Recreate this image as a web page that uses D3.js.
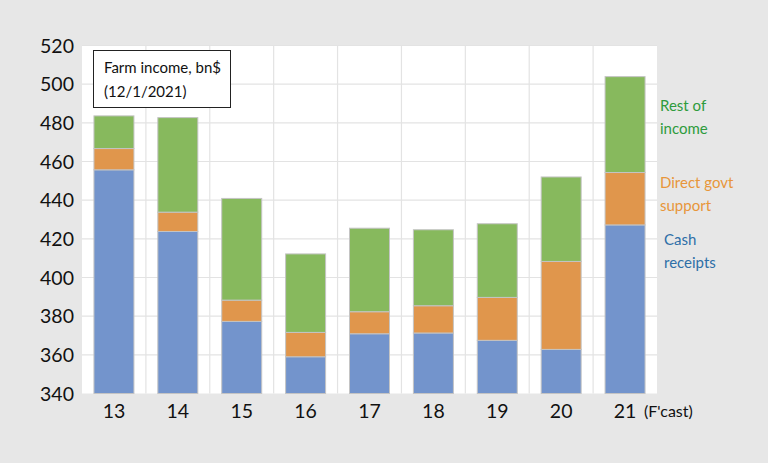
<!DOCTYPE html>
<html><head><meta charset="utf-8">
<script src="https://cdn.jsdelivr.net/npm/d3@7"></script>
<style>
html,body{margin:0;padding:0;background:#e7e7e7;}
svg{display:block;font-family:Lato,"Open Sans",sans-serif;}
</style></head>
<body><svg id="c" width="768" height="463"></svg>
<script>
const years = ["13","14","15","16","17","18","19","20","21"];
const cashReceipts = [455.7, 423.8, 377.3, 359.0, 370.9, 371.3, 367.5, 362.8, 427.2];
const directGovtSupport = [11.0, 10.0, 11.0, 12.6, 11.4, 14.1, 22.2, 45.5, 27.1];
const restOfIncome = [16.9, 48.9, 52.6, 40.6, 43.2, 39.3, 38.1, 43.7, 49.6];
const yTicks = [340,360,380,400,420,440,460,480,500,520];
const seriesNames = ["Cash receipts","Direct govt support","Rest of income"];

const svg = d3.select("#c");
const W = 768, H = 463;
svg.append("rect").attr("width",W).attr("height",H).attr("fill","#e7e7e7");

const pLeft = 82, pRight = 657, pTop = 45.5, pBottom = 393.5;
const x = d3.scaleBand().domain(years).range([pLeft,pRight]).paddingInner(0.374).paddingOuter(0.187);
const y = d3.scaleLinear().domain([340,520]).range([pBottom,pTop]);

svg.append("rect").attr("x",pLeft).attr("y",pTop).attr("width",pRight-pLeft).attr("height",pBottom-pTop).attr("fill","#ffffff");

// gridlines
svg.append("g").selectAll("line").data(yTicks.slice(1)).join("line")
  .attr("x1",pLeft).attr("x2",pRight).attr("y1",d=>y(d)).attr("y2",d=>y(d))
  .attr("stroke","#e3e3e3").attr("stroke-width",1.2);
const step = x.step();
svg.append("g").selectAll("line").data(years.slice(1)).join("line")
  .attr("x1",d=>x(d)-x.paddingInner()*step/2).attr("x2",d=>x(d)-x.paddingInner()*step/2)
  .attr("y1",pTop).attr("y2",pBottom)
  .attr("stroke","#e3e3e3").attr("stroke-width",1.2);

const data = years.map((yr,i)=>({year:yr, cash:cashReceipts[i], govt:directGovtSupport[i], rest:restOfIncome[i]}));
const stack = d3.stack().keys(["cash","govt","rest"]);
const layers = stack(data);
const colors = {cash:"#7394cc", govt:"#e0964c", rest:"#87b95d"};

svg.append("g").selectAll("g").data(layers).join("g")
  .attr("fill",d=>colors[d.key])
  .selectAll("rect").data(d=>d).join("rect")
  .attr("x",d=>x(d.data.year))
  .attr("width",x.bandwidth())
  .attr("y",d=>y(d[1]))
  .attr("height",d=>y(Math.max(d[0],340))-y(d[1]))
  .attr("stroke","#c4c4c4").attr("stroke-width",1);

// y axis
const yAxis = d3.axisLeft(y).tickValues(yTicks).tickSize(0).tickPadding(0);
const ga = svg.append("g").attr("transform",`translate(74,0)`).call(yAxis);
ga.select(".domain").remove();
ga.selectAll("text").attr("font-size",19.5).attr("fill","#111").attr("font-family","Lato,'Open Sans',sans-serif").attr("dy","0.35em");

// x axis
const xAxis = d3.axisBottom(x).tickSize(0).tickPadding(0);
const gx = svg.append("g").attr("transform",`translate(0,${pBottom})`).call(xAxis);
gx.select(".domain").remove();
gx.selectAll("text").attr("font-size",19.5).attr("fill","#111").attr("font-family","Lato,'Open Sans',sans-serif").attr("y",24).attr("dy",0);

svg.append("text").attr("x",644).attr("y",417).attr("font-size",16).attr("fill","#111").text("(F'cast)");

// title box
svg.append("rect").attr("x",93.5).attr("y",50.5).attr("width",137).attr("height",57).attr("fill","#fff").attr("stroke","#222").attr("stroke-width",1);
svg.append("text").attr("x",104).attr("y",73).attr("font-size",15).attr("fill","#111").text("Farm income, bn$");
svg.append("text").attr("x",104).attr("y",97).attr("font-size",15).attr("fill","#111").text("(12/1/2021)");

// legend labels
const leg = [
  {lines:["Rest of","income"], x:660, y:111, c:"#2e9b3c"},
  {lines:["Direct govt","support"], x:660, y:188, c:"#e8963a"},
  {lines:["Cash","receipts"], x:664, y:245, c:"#2e6fa7"}
];
leg.forEach(l=>{
  l.lines.forEach((t,j)=>{
    svg.append("text").attr("x",l.x).attr("y",l.y+j*23).attr("font-size",15).attr("fill",l.c).text(t);
  });
});
</script></body></html>
